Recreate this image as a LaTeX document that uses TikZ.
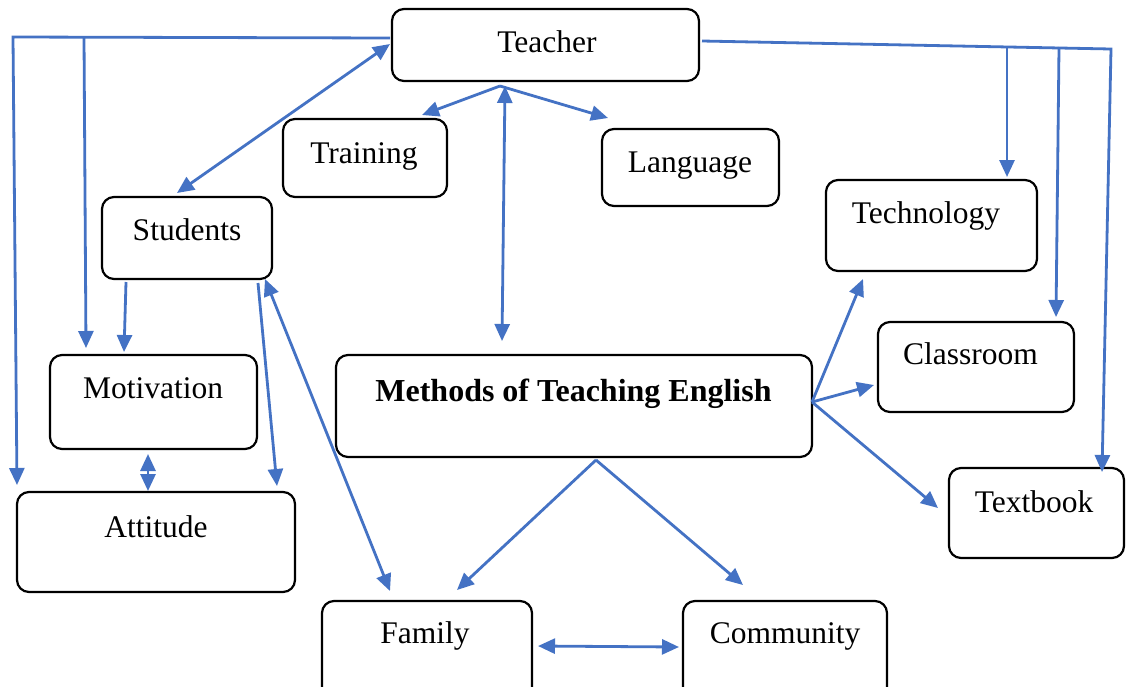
\documentclass[tikz,border=0pt]{standalone}
\usepackage{fontspec}
\setmainfont{Liberation Serif}
\usetikzlibrary{arrows.meta}
\definecolor{arrblue}{HTML}{4472C4}
\begin{document}
\begin{tikzpicture}[x=1pt,y=-1pt,
  box/.style={draw=black, line width=2.2pt, rounded corners=12pt, inner sep=0pt, outer sep=0pt, fill=white},
  lbl/.style={font=\fontsize{31.5}{36}\selectfont, inner sep=0pt, anchor=base},
  blbl/.style={font=\fontsize{32}{36}\selectfont\bfseries, inner sep=0pt, anchor=base},
  wire/.style={draw=arrblue, line width=2.8pt, line join=miter},
  conn/.style={wire, -{Triangle[length=17pt,width=15pt]}},
  conntwo/.style={wire, {Triangle[length=17pt,width=15pt]}-{Triangle[length=17pt,width=15pt]}}
]
\clip (0,0) rectangle (1126,686);
\fill[white] (0,0) rectangle (1126,686);

% boxes
\node[box, minimum width=307pt, minimum height=72pt] (teacher) at (545.5,45) {};
\node[box, minimum width=164pt, minimum height=78pt] (training) at (365,158) {};
\node[box, minimum width=177pt, minimum height=77pt] (language) at (690.5,167.5) {};
\node[box, minimum width=211pt, minimum height=91pt] (technology) at (931.5,225.5) {};
\node[box, minimum width=170pt, minimum height=82pt] (students) at (187,238) {};
\node[box, minimum width=196pt, minimum height=90pt] (classroom) at (976,367) {};
\node[box, minimum width=207pt, minimum height=94pt] (motivation) at (153.5,402) {};
\node[box, minimum width=476pt, minimum height=102pt] (methods) at (574,406) {};
\node[box, minimum width=175pt, minimum height=90pt] (textbook) at (1036.5,513) {};
\node[box, minimum width=278pt, minimum height=100pt] (attitude) at (156,542) {};
\node[box, minimum width=210pt, minimum height=99pt] (family) at (427,650.5) {};
\node[box, minimum width=204pt, minimum height=99pt] (community) at (785,650.5) {};

% labels
\node[lbl] (teacher-t) at (547,52) {Teacher};
\node[lbl] (training-t) at (364,163) {Training};
\node[lbl] (language-t) at (690,172) {Language};
\node[lbl] (technology-t) at (926,223) {Technology};
\node[lbl] (students-t) at (187,240) {Students};
\node[lbl] (classroom-t) at (970.5,364) {Classroom};
\node[lbl] (motivation-t) at (153,398) {Motivation};
\node[blbl] (methods-t) at (573.5,401) {Methods of Teaching English};
\node[lbl] (textbook-t) at (1034,512) {Textbook};
\node[lbl] (attitude-t) at (156,537) {Attitude};
\node[lbl] (family-t) at (425,643) {Family};
\node[lbl] (community-t) at (785,643) {Community};

% connector points
\coordinate (tL) at (390,38);
\coordinate (cornerL) at (13,37);
\coordinate (midL) at (84,37);
\coordinate (attIn) at (17,485);
\coordinate (motIn) at (86,348);
\coordinate (tR) at (702,41);
\coordinate (cornerR) at (1111,49);
\coordinate (techTop) at (1007,46);
\coordinate (techIn) at (1007,177);
\coordinate (classTop) at (1059,47);
\coordinate (classIn) at (1056,317);
\coordinate (textIn) at (1102,472);
\coordinate (tSW) at (390,44);
\coordinate (stuIn) at (177,193);
\coordinate (tBot) at (500,86);
\coordinate (trainIn) at (422,115);
\coordinate (langIn) at (608,118);
\coordinate (tBot2) at (505,86);
\coordinate (methTop) at (502,341);
\coordinate (stuB1) at (126,282);
\coordinate (motIn2) at (124,352);
\coordinate (stuB2) at (258,283);
\coordinate (attIn2) at (277,486);
\coordinate (stuB3) at (265,279);
\coordinate (famIn) at (390,591);
\coordinate (motB) at (148,454);
\coordinate (attT) at (148,491);
\coordinate (methB) at (596,460);
\coordinate (famIn2) at (457,590);
\coordinate (comIn) at (743,585);
\coordinate (methR) at (812,402);
\coordinate (techIn2) at (863,279);
\coordinate (classIn2) at (874,385);
\coordinate (textIn2) at (938,508);
\coordinate (famR) at (538,646);
\coordinate (comL) at (679,647);

% connectors
\draw[conn] (tL) -- (cornerL) -- (attIn);
\draw[conn] (midL) -- (motIn);
\draw[conn] (tR) -- (cornerR) -- (textIn);
\draw[conn] (techTop) -- (techIn);
\draw[conn] (classTop) -- (classIn);
\draw[conntwo] (tSW) -- (stuIn);
\draw[conn] (tBot) -- (trainIn);
\draw[conn] (tBot) -- (langIn);
\draw[conntwo] (tBot2) -- (methTop);
\draw[conn] (stuB1) -- (motIn2);
\draw[conn] (stuB2) -- (attIn2);
\draw[conntwo] (stuB3) -- (famIn);
\draw[conntwo] (motB) -- (attT);
\draw[conn] (methB) -- (famIn2);
\draw[conn] (methB) -- (comIn);
\draw[conn] (methR) -- (techIn2);
\draw[conn] (methR) -- (classIn2);
\draw[conn] (methR) -- (textIn2);
\draw[conntwo] (famR) -- (comL);
\end{tikzpicture}
\end{document}
